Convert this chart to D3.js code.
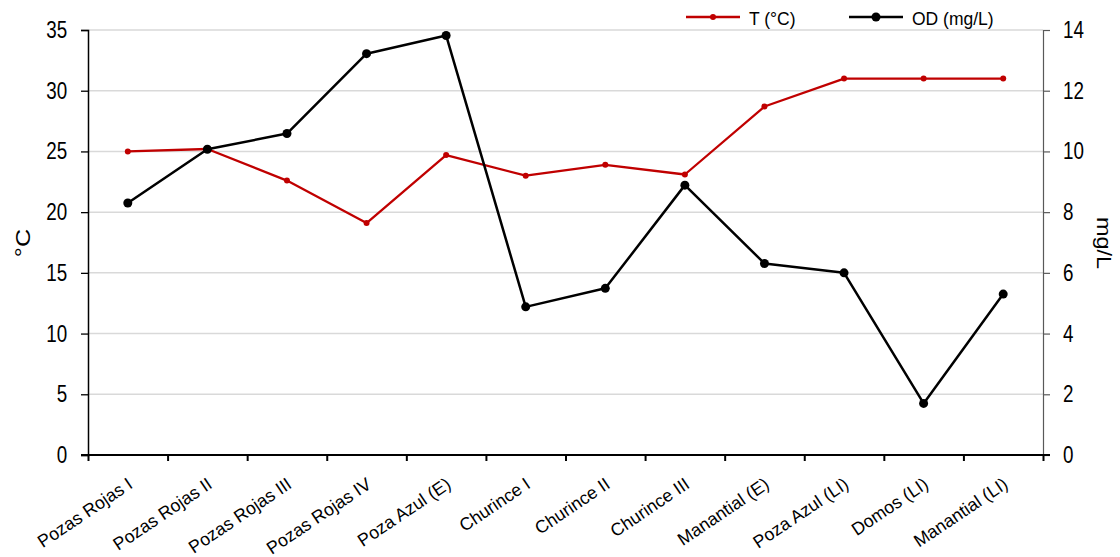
<!DOCTYPE html>
<html>
<head>
<meta charset="utf-8">
<script src="https://cdn.jsdelivr.net/npm/d3@7"></script>
<style>
  html, body { margin: 0; padding: 0; background: #fff; }
  svg { display: block; font-family: "Liberation Sans", Arial, sans-serif; }
</style>
</head>
<body>
<svg id="chart" width="1120" height="557"></svg>
<script>
// sampling sites
var categories = ['Pozas Rojas I', 'Pozas Rojas II', 'Pozas Rojas III', 'Pozas Rojas IV',
  'Poza Azul (E)', 'Churince I', 'Churince II', 'Churince III', 'Manantial (E)',
  'Poza Azul (LI)', 'Domos (LI)', 'Manantial (LI)'];
// temperature, °C (left axis)
var tempC = [25.0, 25.2, 22.6, 19.1, 24.7, 23.0, 23.9, 23.1, 28.7, 31.0, 31.0, 31.0];
// dissolved oxygen, mg/L (right axis)
var odMgL = [8.3, 10.07, 10.59, 13.22, 13.82, 4.88, 5.49, 8.89, 6.31, 6.0, 1.7, 5.3];
var leftTicks = [0, 5, 10, 15, 20, 25, 30, 35];
var rightTicks = [0, 2, 4, 6, 8, 10, 12, 14];

var plot = {left: 88, right: 1043, top: 30, bottom: 455};
var svg = d3.select('#chart');

var x = d3.scaleBand().domain(categories).range([plot.left, plot.right]).padding(0);
var xEdges = d3.scaleLinear().domain([0, categories.length]).range([plot.left, plot.right]);
var yL = d3.scaleLinear().domain([0, 35]).range([plot.bottom, plot.top]);
var yR = d3.scaleLinear().domain([0, 14]).range([plot.bottom, plot.top]);
var cx = d => x(d) + x.bandwidth() / 2;

// gridlines
svg.append('g').selectAll('line')
  .data(leftTicks.filter(d => d > 0))
  .enter().append('line')
    .attr('x1', plot.left).attr('x2', plot.right)
    .attr('y1', d => yL(d)).attr('y2', d => yL(d))
    .attr('stroke', '#d9d9d9').attr('stroke-width', 1.5);

// narrow-looking numbers: squeeze the text horizontally
function squeeze(sel) {
  sel.selectAll('text')
    .attr('font-size', 23.5)
    .attr('font-family', '"Liberation Sans", Arial, sans-serif')
    .attr('fill', '#000')
    .attr('transform', 'scale(0.8,1)');
}

// left axis
var gL = svg.append('g').attr('transform', `translate(${plot.left},0)`)
  .call(d3.axisLeft(yL).tickValues(leftTicks).tickSize(7).tickPadding(19).tickFormat(d3.format('d')));
gL.select('.domain').attr('stroke', '#000').attr('stroke-width', 1.5);
gL.selectAll('.tick line').attr('stroke', '#000').attr('stroke-width', 1.3);
squeeze(gL);

// right axis
var gR = svg.append('g').attr('transform', `translate(${plot.right},0)`)
  .call(d3.axisRight(yR).tickValues(rightTicks).tickSize(7).tickPadding(18).tickFormat(d3.format('d')));
gR.select('.domain').attr('stroke', '#595959').attr('stroke-width', 1.2);
gR.selectAll('.tick line').attr('stroke', '#595959').attr('stroke-width', 1.2);
squeeze(gR);

// bottom axis: ticks sit between categories
var gB = svg.append('g').attr('transform', `translate(0,${plot.bottom})`)
  .call(d3.axisBottom(xEdges).ticks(categories.length).tickSize(6).tickSizeOuter(0).tickFormat(''));
gB.select('.domain').remove();
gB.selectAll('.tick line').attr('stroke', '#000').attr('stroke-width', 2);
gB.append('line')
  .attr('x1', plot.left - 7).attr('x2', plot.right + 7)
  .attr('stroke', '#000').attr('stroke-width', 2.2);

// category labels, rotated
svg.append('g').selectAll('text')
  .data(categories)
  .enter().append('text')
    .attr('transform', d => `translate(${cx(d) + 6},487) rotate(-34)`)
    .attr('text-anchor', 'end')
    .attr('font-size', 17.8)
    .attr('fill', '#000')
    .text(d => d);

// axis titles
svg.append('text')
  .attr('transform', 'translate(30,243) scale(1,1.2) rotate(-90)')
  .attr('text-anchor', 'middle')
  .attr('font-size', 21)
  .text('°C');
svg.append('text')
  .attr('transform', 'translate(1097,243) scale(1,1.2) rotate(90)')
  .attr('text-anchor', 'middle')
  .attr('font-size', 19.5)
  .text('mg/L');

// series
var series = [
  {name: 'T (°C)', values: tempC, y: yL, color: '#c00000', r: 3, width: 2.3},
  {name: 'OD (mg/L)', values: odMgL, y: yR, color: '#000000', r: 4.5, width: 2.5}
];

series.forEach(function(s) {
  var line = d3.line().x((d, i) => cx(categories[i])).y(d => s.y(d));
  svg.append('path')
    .datum(s.values)
    .attr('d', line)
    .attr('fill', 'none')
    .attr('stroke', s.color)
    .attr('stroke-width', s.width)
    .attr('stroke-linejoin', 'round');
  svg.append('g').selectAll('circle')
    .data(s.values)
    .enter().append('circle')
      .attr('cx', (d, i) => cx(categories[i]))
      .attr('cy', d => s.y(d))
      .attr('r', s.r)
      .attr('fill', s.color);
});

// legend
var legendX = [686, 849];
var legend = svg.append('g').selectAll('g')
  .data(series)
  .enter().append('g')
    .attr('transform', (d, i) => `translate(${legendX[i]},17)`);
legend.append('line')
  .attr('x1', 0).attr('x2', 54)
  .attr('stroke', d => d.color).attr('stroke-width', d => d.width);
legend.append('circle')
  .attr('cx', 27).attr('r', d => d.r)
  .attr('fill', d => d.color);
legend.append('text')
  .attr('x', 63).attr('y', 7.5)
  .attr('font-size', 17.5)
  .attr('fill', '#000')
  .text(d => d.name);
</script>
</body>
</html>
